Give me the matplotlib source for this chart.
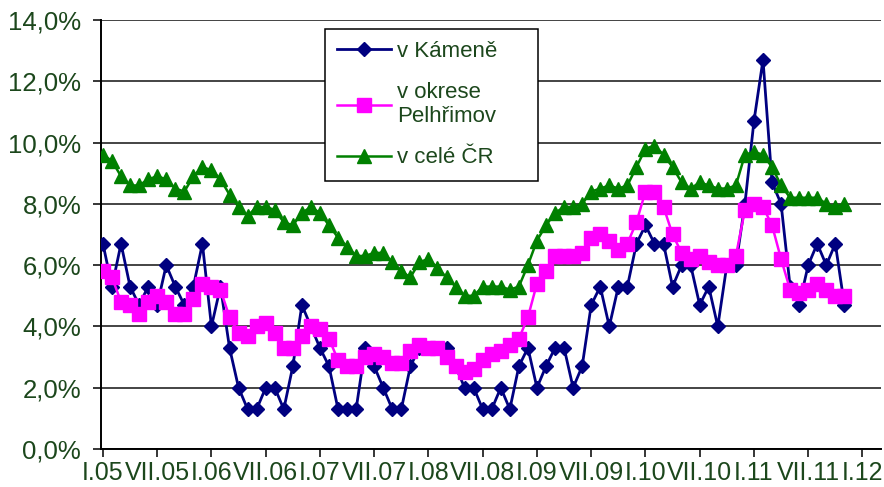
import matplotlib
matplotlib.use("Agg")
import matplotlib.pyplot as plt

# ---- data (monthly, I.05 .. XI.11) ----
kamen = [6.7, 5.3, 6.7, 5.3, 4.7, 5.3, 4.7, 6.0, 5.3, 4.7, 5.3, 6.7,
         4.0, 5.3, 3.3, 2.0, 1.3, 1.3, 2.0, 2.0, 1.3, 2.7, 4.7, 4.0,
         3.3, 2.7, 1.3, 1.3, 1.3, 3.3, 2.7, 2.0, 1.3, 1.3, 2.7, 3.3,
         3.3, 3.3, 3.3, 2.7, 2.0, 2.0, 1.3, 1.3, 2.0, 1.3, 2.7, 3.3,
         2.0, 2.7, 3.3, 3.3, 2.0, 2.7, 4.7, 5.3, 4.0, 5.3, 5.3, 6.7,
         7.3, 6.7, 6.7, 5.3, 6.0, 6.0, 4.7, 5.3, 4.0, 6.0, 6.0, 8.0,
         10.7, 12.7, 8.7, 8.0, 5.3, 4.7, 6.0, 6.7, 6.0, 6.7, 4.7]

pelhrimov = [5.8, 5.6, 4.8, 4.7, 4.4, 4.8, 5.0, 4.8, 4.4, 4.4, 4.9, 5.4,
             5.3, 5.2, 4.3, 3.8, 3.7, 4.0, 4.1, 3.8, 3.3, 3.3, 3.7, 4.0,
             3.9, 3.6, 2.9, 2.7, 2.7, 3.0, 3.1, 3.0, 2.8, 2.8, 3.2, 3.4,
             3.3, 3.3, 3.0, 2.7, 2.5, 2.6, 2.9, 3.1, 3.2, 3.4, 3.6, 4.3,
             5.4, 5.8, 6.3, 6.3, 6.3, 6.4, 6.9, 7.0, 6.8, 6.5, 6.7, 7.4,
             8.4, 8.4, 7.9, 7.0, 6.4, 6.2, 6.3, 6.1, 6.0, 6.0, 6.3, 7.8,
             8.0, 7.9, 7.3, 6.2, 5.2, 5.1, 5.2, 5.4, 5.2, 5.0, 5.0]

cr = [9.6, 9.4, 8.9, 8.6, 8.6, 8.8, 8.9, 8.8, 8.5, 8.4, 8.9, 9.2,
      9.1, 8.8, 8.3, 7.9, 7.6, 7.9, 7.9, 7.8, 7.4, 7.3, 7.7, 7.9,
      7.7, 7.3, 6.9, 6.6, 6.3, 6.3, 6.4, 6.4, 6.1, 5.8, 5.6, 6.1,
      6.2, 5.9, 5.6, 5.3, 5.0, 5.0, 5.3, 5.3, 5.3, 5.2, 5.3, 6.0,
      6.8, 7.3, 7.7, 7.9, 7.9, 8.0, 8.4, 8.5, 8.6, 8.5, 8.6, 9.2,
      9.8, 9.9, 9.6, 9.2, 8.7, 8.5, 8.7, 8.6, 8.5, 8.5, 8.6, 9.6,
      9.7, 9.6, 9.2, 8.6, 8.2, 8.2, 8.2, 8.2, 8.0, 7.9, 8.0]

series_names = ["v Kámeně", "v okrese\nPelhřimov", "v celé ČR"]

x_tick_labels = ["I.05", "VII.05", "I.06", "VII.06", "I.07", "VII.07",
                 "I.08", "VII.08", "I.09", "VII.09", "I.10", "VII.10",
                 "I.11", "VII.11", "I.12"]
y_ticks = [0, 2, 4, 6, 8, 10, 12, 14]
y_tick_labels = ["0,0%", "2,0%", "4,0%", "6,0%", "8,0%", "10,0%",
                 "12,0%", "14,0%"]

# ---- plot ----
plt.rcParams["font.family"] = ["Liberation Sans", "DejaVu Sans"]
text_col = "#1c471c"

fig = plt.figure(figsize=(8.84, 4.87), dpi=100)
ax = fig.add_axes([0.1139, 0.078, 0.8827, 0.881])

x = list(range(len(cr)))

l1, = ax.plot(x, kamen, color="#000080", lw=2.0, marker="D", ms=6.8,
              mfc="#000080", mec="#000080", zorder=3)
l2, = ax.plot(x, pelhrimov, color="#ff00ff", lw=1.8, marker="s", ms=10,
              mfc="#ff00ff", mec="#ff00ff", zorder=4)
l3, = ax.plot(x, cr, color="#008000", lw=1.8, marker="^", ms=9.5,
              mfc="#008000", mec="#008000", zorder=5)

ax.set_xlim(-0.25, 86.05)
ax.set_ylim(0, 14)
ax.set_xticks(list(range(0, 6 * len(x_tick_labels), 6)))
ax.set_xticklabels(x_tick_labels)
ax.set_yticks(y_ticks)
ax.set_yticklabels(y_tick_labels)

ax.yaxis.grid(True, color="#111111", lw=1.1)
ax.set_axisbelow(True)
for s in ("top", "right"):
    ax.spines[s].set_visible(False)
for s in ("left", "bottom"):
    ax.spines[s].set_color("black")
    ax.spines[s].set_linewidth(1.4)

ax.tick_params(axis="both", direction="out", length=6, width=1.1,
               color="black", labelsize=18, labelcolor=text_col)
ax.tick_params(axis="y", pad=8, labelsize=18.5)
ax.tick_params(axis="x", pad=2.5)

leg = ax.legend([l1, l2, l3], series_names, loc="upper left",
                bbox_to_anchor=(0.2875, 0.979 - 0.38, 0.273, 0.38),
                mode="expand", borderaxespad=0,
                fontsize=16, handlelength=2.4, handletextpad=0.3,
                borderpad=0.55, labelspacing=0.9, fancybox=False,
                framealpha=1, edgecolor="black")
leg.get_frame().set_linewidth(1.1)
for t in leg.get_texts():
    t.set_color(text_col)
    t.set_multialignment("left")
leg.set_zorder(10)

fig.savefig("out.png", dpi=100)
